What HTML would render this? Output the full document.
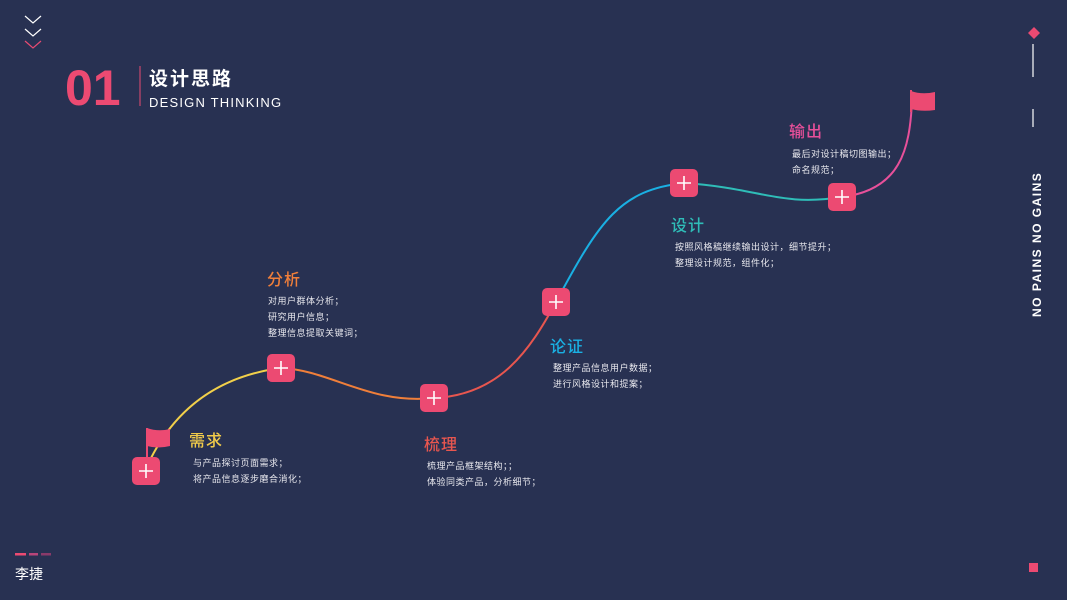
<!DOCTYPE html>
<html><head><meta charset="utf-8"><style>
body{margin:0;width:1067px;height:600px;background:#283152;overflow:hidden;position:relative;font-family:"Liberation Sans","Noto Sans CJK SC",sans-serif;color:#fff}
.a{position:absolute;white-space:nowrap}
.t{font-size:16px;font-weight:500;letter-spacing:1px}
.b{font-size:9px;line-height:16px;color:#e8e8ee;letter-spacing:0.5px}
</style></head><body>
<svg width="1067" height="600" style="position:absolute;left:0;top:0">
<g fill="none" stroke-width="1.2">
<polyline points="25,16 33,23 41,16" stroke="#fff"/>
<polyline points="25,29 33,36 41,29" stroke="#fff"/>
<polyline points="25,41 33,48 41,41" stroke="#e84a72"/>
</g>
<line x1="140" y1="66" x2="140" y2="106" stroke="#e84a72" stroke-width="1"/>
<g fill="none" stroke-width="2">
<path d="M150,460 Q190,380 281,368" stroke="#f2d04a"/>
<path d="M281,368 C330,370 370,405 434,398" stroke="#f07f3a"/>
<path d="M434,398 C500,395 530,350 556,302" stroke="#e8564f"/>
<path d="M556,302 C600,220 620,190 684,183" stroke="#1ab0e3"/>
<path d="M684,183 C760,188 780,207 842,197" stroke="#2fbdb8"/>
<path d="M842,197 C900,190 910,150 912,100" stroke="#e8509a"/>
</g>
<g fill="#ec4a72">
<rect x="146" y="428" width="2" height="34"/>
<path d="M147,428 Q158,432 170,429 L170,446 Q158,449 147,446Z"/>
<rect x="910" y="90" width="2" height="22"/>
<path d="M911,91 Q922,95 935,92 L935,110 Q922,112 911,109Z"/>
<rect x="132" y="457" width="28" height="28" rx="5"/>
<rect x="267" y="354" width="28" height="28" rx="5"/>
<rect x="420" y="384" width="28" height="28" rx="5"/>
<rect x="542" y="288" width="28" height="28" rx="5"/>
<rect x="670" y="169" width="28" height="28" rx="5"/>
<rect x="828" y="183" width="28" height="28" rx="5"/>
<path d="M1034,27 L1040,33 L1034,39 L1028,33Z"/>
<rect x="1029" y="563" width="9" height="9"/>
<rect x="15" y="553" width="11" height="2.5"/>
<rect x="29" y="553" width="9" height="2.5" fill="#b8457a"/>
<rect x="41" y="553" width="10" height="2.5" fill="#8a3a6a"/>
</g>
<g stroke="#fff" stroke-width="1.6">
<path d="M146,464v14M139,471h14"/>
<path d="M281,361v14M274,368h14"/>
<path d="M434,391v14M427,398h14"/>
<path d="M556,295v14M549,302h14"/>
<path d="M684,176v14M677,183h14"/>
<path d="M842,190v14M835,197h14"/>
</g>
<g stroke="#fff" stroke-width="1.2">
<line x1="1033" y1="44" x2="1033" y2="77"/>
<line x1="1033" y1="109" x2="1033" y2="127"/>
</g>
<text x="0" y="0" transform="translate(1041,317) rotate(-90)" fill="#fff" font-size="12" font-weight="bold" letter-spacing="1.5" font-family="Liberation Sans,sans-serif">NO PAINS NO GAINS</text>
</svg>
<div class="a" style="left:65px;top:58px;font-size:50px;font-weight:bold;color:#ec4a72;line-height:60px">01</div>
<div class="a" style="left:149px;top:64px;font-size:19px;font-weight:bold;letter-spacing:2px">设计思路</div>
<div class="a" style="left:149px;top:95px;font-size:13px;letter-spacing:1.2px">DESIGN THINKING</div>
<div class="a" style="left:15px;top:564px;font-size:14px">李捷</div>

<div class="a t" style="left:189px;top:427px;color:#f2cc4a">需求</div>
<div class="a b" style="left:193px;top:455px">与产品探讨页面需求；<br>将产品信息逐步磨合消化；</div>
<div class="a t" style="left:267px;top:266px;color:#f07f3a">分析</div>
<div class="a b" style="left:268px;top:293px">对用户群体分析；<br>研究用户信息；<br>整理信息提取关键词；</div>
<div class="a t" style="left:424px;top:431px;color:#e8564f">梳理</div>
<div class="a b" style="left:427px;top:458px">梳理产品框架结构；；<br>体验同类产品，分析细节；</div>
<div class="a t" style="left:550px;top:333px;color:#1ab0e3">论证</div>
<div class="a b" style="left:553px;top:360px">整理产品信息用户数据；<br>进行风格设计和提案；</div>
<div class="a t" style="left:671px;top:212px;color:#2fbdb8">设计</div>
<div class="a b" style="left:675px;top:239px">按照风格稿继续输出设计，细节提升；<br>整理设计规范，组件化；</div>
<div class="a t" style="left:789px;top:118px;color:#e8509a">输出</div>
<div class="a b" style="left:792px;top:146px">最后对设计稿切图输出；<br>命名规范；</div>
</body></html>
